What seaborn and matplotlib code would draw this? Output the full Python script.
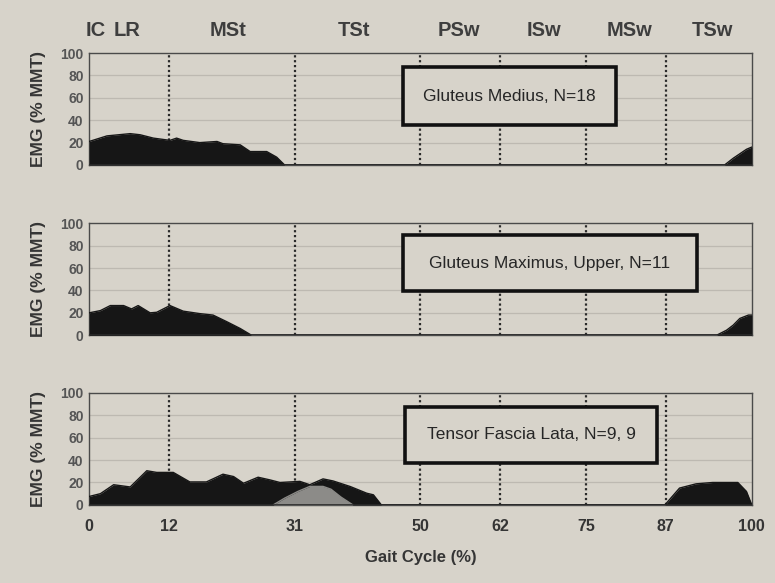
import matplotlib
matplotlib.use("Agg")
import matplotlib.pyplot as plt
import seaborn as sns
import pandas as pd
from matplotlib.patches import Rectangle

# ---------------- data ----------------
phase_labels = ["IC", "LR", "MSt", "TSt", "PSw", "ISw", "MSw", "TSw"]
phase_label_pos = [1, 5.8, 21, 40, 55.8, 68.6, 81.6, 94]
phase_bounds = [12, 31, 50, 62, 75, 87]
x_ticks = [0, 12, 31, 50, 62, 75, 87, 100]
y_ticks = [0, 20, 40, 60, 80, 100]

gmed_x = [0, 2.7, 6.2, 7.7, 9.7, 12.2, 13.2, 14.2, 16.7, 19.3, 20.2, 22.8, 24.3, 26.8, 28.3, 29.5,
          95.9, 97.2, 98.2, 99.2, 100]
gmed_y = [21, 26, 28, 27, 24, 22, 24, 22, 20, 21, 19, 18, 12, 12, 7, 0,
          0, 6, 10, 14, 16]

gmax_x = [0, 1.7, 3.2, 5.2, 6.4, 7.4, 9.2, 10.2, 12.2, 14.2, 16.7, 18.7, 20.8, 22.8, 24.5,
          94.7, 96.2, 97.2, 98.2, 99.5, 100]
gmax_y = [20, 22, 26.5, 26.5, 23.5, 26.5, 20, 20.5, 26.5, 21.5, 19.3, 18, 12, 6, 0,
          0, 4.5, 9, 15, 18, 18]

tfl_x = [0, 1.7, 3.7, 6.2, 8.7, 10.2, 12.7, 15.2, 17.7, 20.2, 21.8, 23.3, 25.5, 27.3, 28.8,
         30.3, 31.8, 33.3, 35.3, 36.8, 39.4, 41.9, 42.9, 44.1,
         86.9, 89.1, 91.6, 94.1, 97.9, 99.2, 100]
tfl_y = [7.5, 10, 18, 16, 30.5, 29, 29, 20.5, 20.5, 27.4, 25.3, 19.3, 24.7, 22.3, 20,
         20.5, 21, 18, 23.2, 21.4, 16.4, 10.4, 9, 0,
         0, 15, 18.8, 20, 20, 12, 0]

tfl2_x = [27.8, 29.5, 31.5, 33.3, 35.3, 36.5, 38, 39.8]
tfl2_y = [0, 6, 12, 16.5, 16.5, 14, 7, 0]

panel_titles = ["Gluteus Medius, N=18", "Gluteus Maximus, Upper, N=11", "Tensor Fascia Lata, N=9, 9"]
# box extents (x0, x1, y0, y1) in data coords
boxes = [(47.4, 79.5, 35.7, 87.5), (47.4, 91.7, 39.3, 89.3), (47.7, 85.7, 37.5, 87.5)]

# ---------------- style ----------------
sns.set_theme(style="white")
bg = "#d7d3ca"
plt.rcParams["font.family"] = ["Liberation Sans", "DejaVu Sans"]
txt = "#353535"

fig = plt.figure(figsize=(7.75, 5.83), dpi=100, facecolor=bg)

axes_pos = [
    [0.115, 0.717, 0.855, 0.192],
    [0.115, 0.425, 0.855, 0.192],
    [0.115, 0.134, 0.855, 0.192],
]

series = [
    [(gmed_x, gmed_y, "#161616")],
    [(gmax_x, gmax_y, "#161616")],
    [(tfl_x, tfl_y, "#161616"), (tfl2_x, tfl2_y, "#8c8b88")],
]

for i, pos in enumerate(axes_pos):
    ax = fig.add_axes(pos)
    ax.set_facecolor(bg)
    ax.set_xlim(0, 100)
    ax.set_ylim(0, 100)
    for yv in [20, 40, 60, 80]:
        ax.axhline(yv, color="#bdb9b1", lw=0.9, zorder=1)
    for xb in phase_bounds:
        ax.axvline(xb, color="#2a2a2a", lw=1.6, ls=(0, (1, 1.2)), zorder=2)
    for sx, sy, col in series[i]:
        df = pd.DataFrame({"x": sx, "y": sy})
        ax.fill_between(df["x"], 0, df["y"], color=col, lw=0, zorder=3)
        sns.lineplot(data=df, x="x", y="y", ax=ax, color=col, lw=1.0, zorder=4,
                     estimator=None, sort=False)
    ax.plot([0, 100], [0, 0], color="#2a2a2a", lw=1.2, zorder=5)
    for s in ax.spines.values():
        s.set_color("#4a4a4a")
        s.set_linewidth(1.0)
    ax.set_yticks(y_ticks)
    ax.set_yticklabels([str(v) for v in y_ticks], fontsize=10, fontweight="bold", color="#555555")
    ax.tick_params(axis="both", length=0, pad=4)
    ax.set_ylabel("EMG (% MMT)", fontsize=12.5, fontweight="bold", color=txt, labelpad=10)
    ax.set_xticks(x_ticks)
    if i < 2:
        ax.set_xticklabels([])
        ax.set_xlabel("")
    else:
        ax.set_xticklabels([str(v) for v in x_ticks], fontsize=11.5, fontweight="bold", color=txt)
        ax.tick_params(axis="x", pad=10)
        ax.set_xlabel("Gait Cycle (%)", fontsize=12, fontweight="bold", color=txt, labelpad=12)
    x0, x1, y0, y1 = boxes[i]
    ax.add_patch(Rectangle((x0, y0), x1 - x0, y1 - y0, facecolor=bg, edgecolor="#111111",
                           lw=2.6, zorder=6))
    ax.text((x0 + x1) / 2, (y0 + y1) / 2, panel_titles[i], ha="center", va="center",
            fontsize=12.5, color="#262626", zorder=7)
    if i == 0:
        for lab, xp in zip(phase_labels, phase_label_pos):
            ax.text(xp, 120, lab, ha="center", va="center", fontsize=14.5, fontweight="bold",
                    color="#3e3e3e", clip_on=False)

fig.savefig("out.png", dpi=100, facecolor=bg)
